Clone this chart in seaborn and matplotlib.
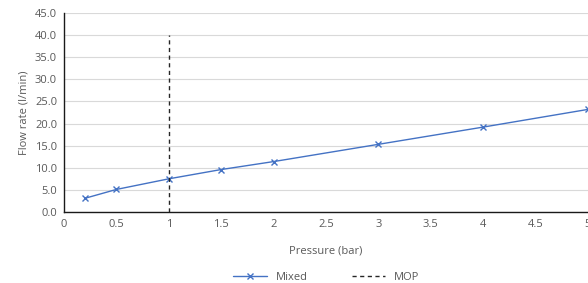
import matplotlib
matplotlib.use("Agg")
import matplotlib.pyplot as plt
import seaborn as sns
import pandas as pd
from matplotlib.ticker import FormatStrFormatter, FuncFormatter

# data
pressure = [0.2, 0.5, 1.0, 1.5, 2.0, 3.0, 4.0, 5.0]
flow_mixed = [3.1, 5.1, 7.5, 9.6, 11.4, 15.3, 19.2, 23.2]
mop_x = [1.0, 1.0]
mop_y = [0.0, 40.0]

df = pd.DataFrame({"Pressure": pressure, "Flow": flow_mixed})

sns.set_style("white")
plt.rcParams["font.family"] = ["Open Sans", "DejaVu Sans"]
txt = "#595959"

fig = plt.figure(figsize=(5.88, 2.83), dpi=100)
ax = fig.add_axes([0.109, 0.251, 0.891, 0.703])

ax.yaxis.grid(True, color="#d9d9d9", linewidth=0.8)
ax.set_axisbelow(True)

sns.lineplot(data=df, x="Pressure", y="Flow", ax=ax, color="#4472C4",
             marker="x", markersize=4, markeredgewidth=1,
             markeredgecolor="#4472C4", linewidth=1, label="Mixed")
ax.plot(mop_x, mop_y, color="#262626", linestyle=(0, (3, 2.5)),
        linewidth=1, label="MOP")

ax.set_xlim(0, 5)
ax.set_ylim(0, 45)
ax.set_xticks([i * 0.5 for i in range(11)])
ax.set_yticks(range(0, 50, 5))
ax.yaxis.set_major_formatter(FormatStrFormatter("%.1f"))
ax.xaxis.set_major_formatter(FuncFormatter(lambda v, p: f"{v:g}"))
ax.tick_params(axis="both", length=0, labelsize=8, labelcolor=txt, pad=5)

for s in ["top", "right"]:
    ax.spines[s].set_visible(False)
for s in ["left", "bottom"]:
    ax.spines[s].set_color("#1a1a1a")
    ax.spines[s].set_linewidth(1)

ax.set_xlabel("Pressure (bar)", fontsize=8, color=txt, labelpad=11)
ax.set_ylabel("Flow rate (l/min)", fontsize=8, color=txt, labelpad=4)

ax.get_legend().remove()
handles, labels = ax.get_legend_handles_labels()
fig.legend(handles, labels, loc="lower center", bbox_to_anchor=(0.555, -0.035),
           ncol=2, frameon=False, fontsize=8, labelcolor=txt,
           handlelength=3.0, columnspacing=4)

fig.savefig("out.png", dpi=100)
